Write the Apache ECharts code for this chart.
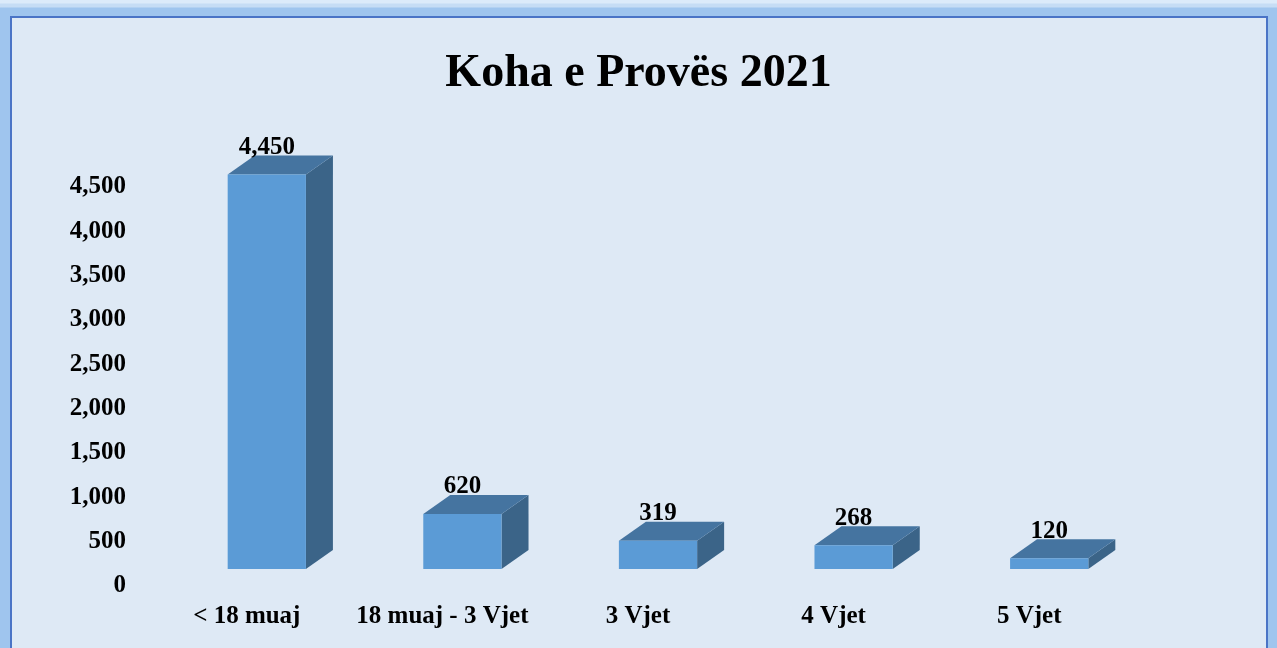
<!DOCTYPE html>
<html>
<head>
<meta charset="utf-8">
<script src="https://cdn.jsdelivr.net/npm/echarts@6/dist/echarts.min.js"></script>
<style>
  html, body { margin: 0; padding: 0; width: 1277px; height: 648px; overflow: hidden; }
  body { background: linear-gradient(#dcebfa 0px, #dcebfa 3px, #c6ddf5 4px, #c6ddf5 7px, #9fc5ee 8px, #9fc5ee 100%); }
  #frame {
    position: absolute; left: 10px; top: 16px; width: 1254px; height: 660px;
    border: 2px solid #4a74c6; background: #dee9f5;
  }
  #chart { position: absolute; left: 0; top: 0; width: 1277px; height: 648px; }
</style>
</head>
<body>
<div id="frame"></div>
<div id="chart"></div>
<script>
  const categories = ['< 18 muaj', '18 muaj - 3 Vjet', '3 Vjet', '4 Vjet', '5 Vjet'];
  const values = [4450, 620, 319, 268, 120];
  const yTicks = [0, 500, 1000, 1500, 2000, 2500, 3000, 3500, 4000, 4500];

  const font = '"Liberation Serif", "DejaVu Serif", serif';
  const fmt = v => v.toLocaleString('en-US');

  // fake 3D box: front face is shifted from the axis position, like Excel does it
  const shiftX = 20, shiftY = -17, depthX = 27, depthY = -19;

  const chart = echarts.init(document.getElementById('chart'));
  chart.setOption({
    backgroundColor: 'transparent',
    textStyle: { fontFamily: font },
    title: {
      text: 'Koha e Provës 2021',
      left: 'center',
      top: 46,
      textStyle: { fontFamily: font, fontSize: 46, fontWeight: 'bold', color: '#000' }
    },
    grid: { left: 149, right: 150, top: 187, bottom: 62 },
    xAxis: {
      type: 'category',
      data: categories,
      axisLine: { show: false },
      axisTick: { show: false },
      axisLabel: { interval: 0, margin: 18, color: '#000', fontSize: 25, fontWeight: 'bold', fontFamily: font }
    },
    yAxis: {
      type: 'value',
      min: yTicks[0],
      max: yTicks[yTicks.length - 1],
      interval: 500,
      splitLine: { show: false },
      axisLine: { show: false },
      axisTick: { show: false },
      axisLabel: { margin: 23, color: '#000', fontSize: 25, fontWeight: 'bold', fontFamily: font, formatter: fmt }
    },
    series: [{
      type: 'custom',
      data: values.map((v, i) => [i, v]),
      renderItem: (params, api) => {
        const i = api.value(0), v = api.value(1);
        const base = api.coord([i, 0]);
        const top = api.coord([i, v]);
        const w = api.size([1, 0])[0] * 0.4;
        const cx = base[0] + shiftX;
        const l = cx - w / 2, r = cx + w / 2;
        const b = base[1] + shiftY, t = top[1] + shiftY;
        return {
          type: 'group',
          children: [
            { type: 'polygon', shape: { points: [[r, t], [r + depthX, t + depthY], [r + depthX, b + depthY], [r, b]] },
              style: { fill: '#3b6488' } },
            { type: 'polygon', shape: { points: [[l, t], [r, t], [r + depthX, t + depthY], [l + depthX, t + depthY]] },
              style: { fill: '#4574a0' } },
            { type: 'rect', shape: { x: l, y: t, width: w, height: b - t },
              style: { fill: '#5b9bd6' } },
            { type: 'text', x: cx, y: t - 27,
              style: { text: fmt(v), fill: '#000', font: 'bold 25px ' + font, align: 'center', verticalAlign: 'middle' } }
          ]
        };
      }
    }]
  });
</script>
</body>
</html>
